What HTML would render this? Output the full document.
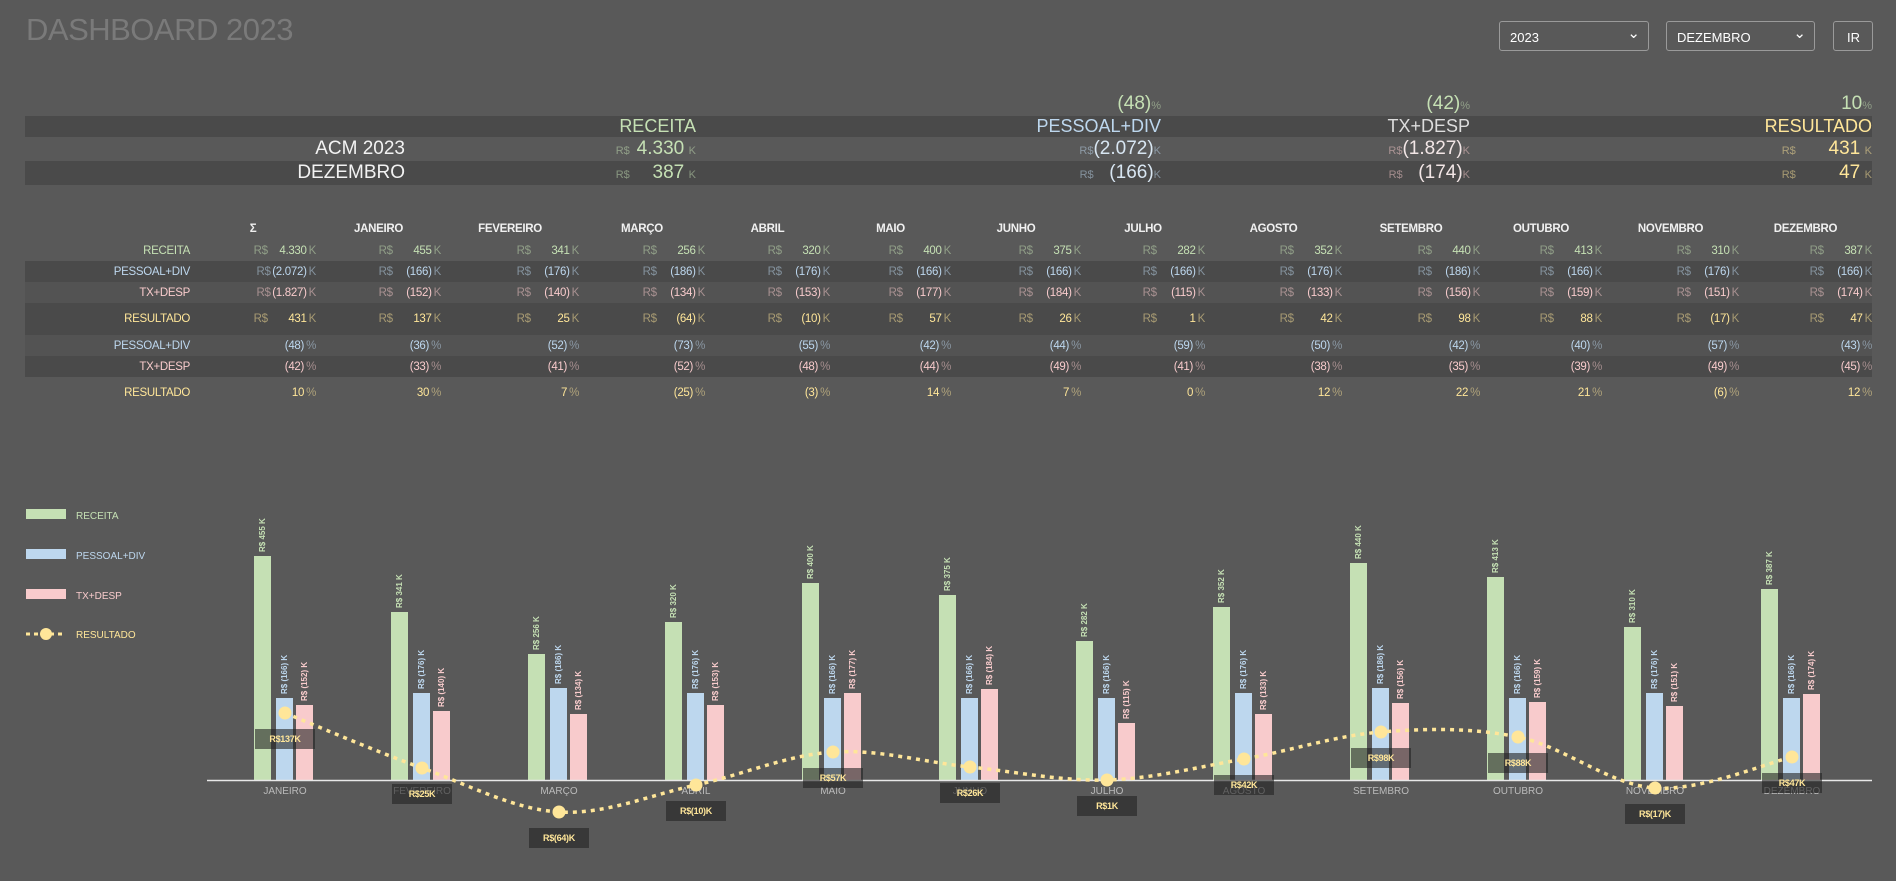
<!DOCTYPE html>
<html><head><meta charset="utf-8"><style>
*{margin:0;padding:0;box-sizing:border-box}
body{width:1896px;height:881px;background:#595959;font-family:"Liberation Sans",sans-serif;position:relative;overflow:hidden;color:#eee}
.abs{position:absolute}
.title{left:26px;top:12px;font-size:31px;color:#7a7a7a;letter-spacing:-0.5px}
.sel{position:absolute;top:21px;height:30px;border:1px solid #9a9a9a;border-radius:3px;color:#fff;font-size:13px;padding:8px 0 0 10px}
.dd:after{content:"⌄";position:absolute;right:8px;top:2px;font-size:15px}
.band{position:absolute;left:25px;width:1847px}
.d{background:#4a4a4a}.m{background:#535353}
.srow{position:absolute;left:25px;width:1847px;display:flex;align-items:center;white-space:nowrap}
.srow div{text-align:right}
.sm{font-size:11px;opacity:.5}
.big{font-size:19px}
.sv{display:inline-block;min-width:50px;text-align:right}
.g{color:#c5e0b4}.b{color:#bdd7ee}.p{color:#f8cbcc}.y{color:#ffe699}.w{color:#f2f2f2}
.row{position:absolute;left:25px;width:1847px;display:flex;align-items:center;font-size:11.5px;white-space:nowrap;letter-spacing:-0.3px}
.row>div{text-align:right}
.row>div:first-child{width:165px}
.c1{width:126px}.c2{width:125px}.c3{width:138px}.c4{width:126px}.c5{width:125px}.c6{width:121px}.c7{width:130px}.c8{width:124px}.c9{width:137px}.c10{width:138px}.c11{width:122px}.c12{width:137px}.c13{width:133px}
.hd>div{text-align:center!important;font-weight:bold;color:#f0f0f0}
.r{opacity:.5}.k{opacity:.5;margin-left:2px}
.v{display:inline-block;min-width:36px;text-align:right}
</style></head><body>
<div class="abs title">DASHBOARD 2023</div>
<div class="sel dd" style="left:1499px;width:150px">2023</div>
<div class="sel dd" style="left:1666px;width:149px">DEZEMBRO</div>
<div class="sel" style="left:1833px;width:40px;padding-left:13px">IR</div>

<!-- summary -->
<div class="band d" style="top:116px;height:21px"></div>
<div class="band d" style="top:161px;height:24px"></div>
<div class="srow g" style="top:93px;height:22px">
<div style="width:1136px" class="big">(48)<span class="sm">%</span></div>
<div style="width:309px" class="big">(42)<span class="sm">%</span></div>
<div style="width:402px" class="big">10<span class="sm">%</span></div>
</div>
<div class="srow" style="top:116px;height:21px;font-size:18px">
<div style="width:671px" class="g">RECEITA</div>
<div style="width:465px" class="b">PESSOAL+DIV</div>
<div style="width:309px;color:#ddd">TX+DESP</div>
<div style="width:402px" class="y">RESULTADO</div>
</div>
<div class="srow" style="top:137px;height:24px">
<div style="width:380px;font-size:19px" class="w">ACM 2023</div>
<div style="width:291px" class="g"><span class="sm">R$</span> <span class="sv big">4.330</span> <span class="sm">K</span></div>
<div style="width:465px" class="b"><span class="sm">R$</span><span class="sv big" style="color:#d8e6f2">(2.072)</span><span class="sm">K</span></div>
<div style="width:309px" class="p"><span class="sm">R$</span><span class="sv big" style="color:#f2e6e6">(1.827)</span><span class="sm">K</span></div>
<div style="width:402px" class="y"><span class="sm">R$</span> <span class="sv big" style="min-width:60px">431</span> <span class="sm">K</span></div>
</div>
<div class="srow" style="top:161px;height:24px">
<div style="width:380px;font-size:19px" class="w">DEZEMBRO</div>
<div style="width:291px" class="g"><span class="sm">R$</span> <span class="sv big">387</span> <span class="sm">K</span></div>
<div style="width:465px" class="b"><span class="sm">R$</span><span class="sv big" style="min-width:60px;color:#d8e6f2">(166)</span><span class="sm">K</span></div>
<div style="width:309px" class="p"><span class="sm">R$</span><span class="sv big" style="min-width:60px;color:#f2e6e6">(174)</span><span class="sm">K</span></div>
<div style="width:402px" class="y"><span class="sm">R$</span> <span class="sv big" style="min-width:60px">47</span> <span class="sm">K</span></div>
</div>

<!-- detail -->
<div class="band d" style="top:261px;height:21px"></div>
<div class="band m" style="top:282px;height:21px"></div>
<div class="band d" style="top:303px;height:32px"></div>
<div class="band m" style="top:335px;height:21px"></div>
<div class="band d" style="top:356px;height:21px"></div>

<div class="row hd" style="top:218px;height:22px"><div></div><div class="c1">Σ</div><div class="c2">JANEIRO</div><div class="c3">FEVEREIRO</div><div class="c4">MARÇO</div><div class="c5">ABRIL</div><div class="c6">MAIO</div><div class="c7">JUNHO</div><div class="c8">JULHO</div><div class="c9">AGOSTO</div><div class="c10">SETEMBRO</div><div class="c11">OUTUBRO</div><div class="c12">NOVEMBRO</div><div class="c13">DEZEMBRO</div></div>

<div class="row g" style="top:240px;height:21px"><div>RECEITA</div>
<div class="c1"><span class="r">R$</span> <span class="v">4.330</span><span class="k">K</span></div>
<div class="c2"><span class="r">R$</span> <span class="v">455</span><span class="k">K</span></div>
<div class="c3"><span class="r">R$</span> <span class="v">341</span><span class="k">K</span></div>
<div class="c4"><span class="r">R$</span> <span class="v">256</span><span class="k">K</span></div>
<div class="c5"><span class="r">R$</span> <span class="v">320</span><span class="k">K</span></div>
<div class="c6"><span class="r">R$</span> <span class="v">400</span><span class="k">K</span></div>
<div class="c7"><span class="r">R$</span> <span class="v">375</span><span class="k">K</span></div>
<div class="c8"><span class="r">R$</span> <span class="v">282</span><span class="k">K</span></div>
<div class="c9"><span class="r">R$</span> <span class="v">352</span><span class="k">K</span></div>
<div class="c10"><span class="r">R$</span> <span class="v">440</span><span class="k">K</span></div>
<div class="c11"><span class="r">R$</span> <span class="v">413</span><span class="k">K</span></div>
<div class="c12"><span class="r">R$</span> <span class="v">310</span><span class="k">K</span></div>
<div class="c13"><span class="r">R$</span> <span class="v">387</span><span class="k">K</span></div></div>

<div class="row b" style="top:261px;height:21px"><div>PESSOAL+DIV</div>
<div class="c1"><span class="r">R$</span><span class="v">(2.072)</span><span class="k">K</span></div>
<div class="c2"><span class="r">R$</span> <span class="v">(166)</span><span class="k">K</span></div>
<div class="c3"><span class="r">R$</span> <span class="v">(176)</span><span class="k">K</span></div>
<div class="c4"><span class="r">R$</span> <span class="v">(186)</span><span class="k">K</span></div>
<div class="c5"><span class="r">R$</span> <span class="v">(176)</span><span class="k">K</span></div>
<div class="c6"><span class="r">R$</span> <span class="v">(166)</span><span class="k">K</span></div>
<div class="c7"><span class="r">R$</span> <span class="v">(166)</span><span class="k">K</span></div>
<div class="c8"><span class="r">R$</span> <span class="v">(166)</span><span class="k">K</span></div>
<div class="c9"><span class="r">R$</span> <span class="v">(176)</span><span class="k">K</span></div>
<div class="c10"><span class="r">R$</span> <span class="v">(186)</span><span class="k">K</span></div>
<div class="c11"><span class="r">R$</span> <span class="v">(166)</span><span class="k">K</span></div>
<div class="c12"><span class="r">R$</span> <span class="v">(176)</span><span class="k">K</span></div>
<div class="c13"><span class="r">R$</span> <span class="v">(166)</span><span class="k">K</span></div></div>

<div class="row p" style="top:282px;height:21px"><div>TX+DESP</div>
<div class="c1"><span class="r">R$</span><span class="v">(1.827)</span><span class="k">K</span></div>
<div class="c2"><span class="r">R$</span> <span class="v">(152)</span><span class="k">K</span></div>
<div class="c3"><span class="r">R$</span> <span class="v">(140)</span><span class="k">K</span></div>
<div class="c4"><span class="r">R$</span> <span class="v">(134)</span><span class="k">K</span></div>
<div class="c5"><span class="r">R$</span> <span class="v">(153)</span><span class="k">K</span></div>
<div class="c6"><span class="r">R$</span> <span class="v">(177)</span><span class="k">K</span></div>
<div class="c7"><span class="r">R$</span> <span class="v">(184)</span><span class="k">K</span></div>
<div class="c8"><span class="r">R$</span> <span class="v">(115)</span><span class="k">K</span></div>
<div class="c9"><span class="r">R$</span> <span class="v">(133)</span><span class="k">K</span></div>
<div class="c10"><span class="r">R$</span> <span class="v">(156)</span><span class="k">K</span></div>
<div class="c11"><span class="r">R$</span> <span class="v">(159)</span><span class="k">K</span></div>
<div class="c12"><span class="r">R$</span> <span class="v">(151)</span><span class="k">K</span></div>
<div class="c13"><span class="r">R$</span> <span class="v">(174)</span><span class="k">K</span></div></div>

<div class="row y" style="top:303px;height:32px"><div>RESULTADO</div>
<div class="c1"><span class="r">R$</span> <span class="v">431</span><span class="k">K</span></div>
<div class="c2"><span class="r">R$</span> <span class="v">137</span><span class="k">K</span></div>
<div class="c3"><span class="r">R$</span> <span class="v">25</span><span class="k">K</span></div>
<div class="c4"><span class="r">R$</span> <span class="v">(64)</span><span class="k">K</span></div>
<div class="c5"><span class="r">R$</span> <span class="v">(10)</span><span class="k">K</span></div>
<div class="c6"><span class="r">R$</span> <span class="v">57</span><span class="k">K</span></div>
<div class="c7"><span class="r">R$</span> <span class="v">26</span><span class="k">K</span></div>
<div class="c8"><span class="r">R$</span> <span class="v">1</span><span class="k">K</span></div>
<div class="c9"><span class="r">R$</span> <span class="v">42</span><span class="k">K</span></div>
<div class="c10"><span class="r">R$</span> <span class="v">98</span><span class="k">K</span></div>
<div class="c11"><span class="r">R$</span> <span class="v">88</span><span class="k">K</span></div>
<div class="c12"><span class="r">R$</span> <span class="v">(17)</span><span class="k">K</span></div>
<div class="c13"><span class="r">R$</span> <span class="v">47</span><span class="k">K</span></div></div>

<div class="row b" style="top:335px;height:21px"><div>PESSOAL+DIV</div>
<div class="c1">(48)<span class="k">%</span></div><div class="c2">(36)<span class="k">%</span></div><div class="c3">(52)<span class="k">%</span></div><div class="c4">(73)<span class="k">%</span></div><div class="c5">(55)<span class="k">%</span></div><div class="c6">(42)<span class="k">%</span></div><div class="c7">(44)<span class="k">%</span></div><div class="c8">(59)<span class="k">%</span></div><div class="c9">(50)<span class="k">%</span></div><div class="c10">(42)<span class="k">%</span></div><div class="c11">(40)<span class="k">%</span></div><div class="c12">(57)<span class="k">%</span></div><div class="c13">(43)<span class="k">%</span></div></div>

<div class="row p" style="top:356px;height:21px"><div>TX+DESP</div>
<div class="c1">(42)<span class="k">%</span></div><div class="c2">(33)<span class="k">%</span></div><div class="c3">(41)<span class="k">%</span></div><div class="c4">(52)<span class="k">%</span></div><div class="c5">(48)<span class="k">%</span></div><div class="c6">(44)<span class="k">%</span></div><div class="c7">(49)<span class="k">%</span></div><div class="c8">(41)<span class="k">%</span></div><div class="c9">(38)<span class="k">%</span></div><div class="c10">(35)<span class="k">%</span></div><div class="c11">(39)<span class="k">%</span></div><div class="c12">(49)<span class="k">%</span></div><div class="c13">(45)<span class="k">%</span></div></div>

<div class="row y" style="top:377px;height:31px"><div>RESULTADO</div>
<div class="c1">10<span class="k">%</span></div><div class="c2">30<span class="k">%</span></div><div class="c3">7<span class="k">%</span></div><div class="c4">(25)<span class="k">%</span></div><div class="c5">(3)<span class="k">%</span></div><div class="c6">14<span class="k">%</span></div><div class="c7">7<span class="k">%</span></div><div class="c8">0<span class="k">%</span></div><div class="c9">12<span class="k">%</span></div><div class="c10">22<span class="k">%</span></div><div class="c11">21<span class="k">%</span></div><div class="c12">(6)<span class="k">%</span></div><div class="c13">12<span class="k">%</span></div></div>

<svg class="abs" style="left:0;top:0" width="1896" height="881" font-family="Liberation Sans, sans-serif">
<rect x="26" y="509" width="40" height="10" fill="#c5e0b4"/><text x="76" y="519" font-size="10" fill="#c5e0b4">RECEITA</text>
<rect x="26" y="549" width="40" height="10" fill="#bdd7ee"/><text x="76" y="559" font-size="10" fill="#bdd7ee">PESSOAL+DIV</text>
<rect x="26" y="589" width="40" height="10" fill="#f8cbcc"/><text x="76" y="599" font-size="10" fill="#f8cbcc">TX+DESP</text>
<line x1="26" y1="634" x2="66" y2="634" stroke="#ffe699" stroke-width="3" stroke-dasharray="4 4"/><circle cx="46" cy="634" r="6" fill="#ffe699"/><text x="76" y="638" font-size="10" fill="#ffe699">RESULTADO</text>
<g>
<rect x="254" y="556" width="17" height="224" fill="#c5e0b4"/><rect x="276" y="698" width="17" height="82" fill="#bdd7ee"/><rect x="296" y="705" width="17" height="75" fill="#f8cbcc"/>
<rect x="391" y="612" width="17" height="168" fill="#c5e0b4"/><rect x="413" y="693" width="17" height="87" fill="#bdd7ee"/><rect x="433" y="711" width="17" height="69" fill="#f8cbcc"/>
<rect x="528" y="654" width="17" height="126" fill="#c5e0b4"/><rect x="550" y="688" width="17" height="92" fill="#bdd7ee"/><rect x="570" y="714" width="17" height="66" fill="#f8cbcc"/>
<rect x="665" y="622" width="17" height="158" fill="#c5e0b4"/><rect x="687" y="693" width="17" height="87" fill="#bdd7ee"/><rect x="707" y="705" width="17" height="75" fill="#f8cbcc"/>
<rect x="802" y="583" width="17" height="197" fill="#c5e0b4"/><rect x="824" y="698" width="17" height="82" fill="#bdd7ee"/><rect x="844" y="693" width="17" height="87" fill="#f8cbcc"/>
<rect x="939" y="595" width="17" height="185" fill="#c5e0b4"/><rect x="961" y="698" width="17" height="82" fill="#bdd7ee"/><rect x="981" y="689" width="17" height="91" fill="#f8cbcc"/>
<rect x="1076" y="641" width="17" height="139" fill="#c5e0b4"/><rect x="1098" y="698" width="17" height="82" fill="#bdd7ee"/><rect x="1118" y="723" width="17" height="57" fill="#f8cbcc"/>
<rect x="1213" y="607" width="17" height="173" fill="#c5e0b4"/><rect x="1235" y="693" width="17" height="87" fill="#bdd7ee"/><rect x="1255" y="714" width="17" height="66" fill="#f8cbcc"/>
<rect x="1350" y="563" width="17" height="217" fill="#c5e0b4"/><rect x="1372" y="688" width="17" height="92" fill="#bdd7ee"/><rect x="1392" y="703" width="17" height="77" fill="#f8cbcc"/>
<rect x="1487" y="577" width="17" height="203" fill="#c5e0b4"/><rect x="1509" y="698" width="17" height="82" fill="#bdd7ee"/><rect x="1529" y="702" width="17" height="78" fill="#f8cbcc"/>
<rect x="1624" y="627" width="17" height="153" fill="#c5e0b4"/><rect x="1646" y="693" width="17" height="87" fill="#bdd7ee"/><rect x="1666" y="706" width="17" height="74" fill="#f8cbcc"/>
<rect x="1761" y="589" width="17" height="191" fill="#c5e0b4"/><rect x="1783" y="698" width="17" height="82" fill="#bdd7ee"/><rect x="1803" y="694" width="17" height="86" fill="#f8cbcc"/>
</g>
<g font-size="8" font-weight="bold">
<text transform="translate(265,552) rotate(-90)" fill="#c5e0b4">R$ 455 K</text><text transform="translate(287,694) rotate(-90)" fill="#bdd7ee">R$ (166) K</text><text transform="translate(307,701) rotate(-90)" fill="#f8cbcc">R$ (152) K</text>
<text transform="translate(402,608) rotate(-90)" fill="#c5e0b4">R$ 341 K</text><text transform="translate(424,689) rotate(-90)" fill="#bdd7ee">R$ (176) K</text><text transform="translate(444,707) rotate(-90)" fill="#f8cbcc">R$ (140) K</text>
<text transform="translate(539,650) rotate(-90)" fill="#c5e0b4">R$ 256 K</text><text transform="translate(561,684) rotate(-90)" fill="#bdd7ee">R$ (186) K</text><text transform="translate(581,710) rotate(-90)" fill="#f8cbcc">R$ (134) K</text>
<text transform="translate(676,618) rotate(-90)" fill="#c5e0b4">R$ 320 K</text><text transform="translate(698,689) rotate(-90)" fill="#bdd7ee">R$ (176) K</text><text transform="translate(718,701) rotate(-90)" fill="#f8cbcc">R$ (153) K</text>
<text transform="translate(813,579) rotate(-90)" fill="#c5e0b4">R$ 400 K</text><text transform="translate(835,694) rotate(-90)" fill="#bdd7ee">R$ (166) K</text><text transform="translate(855,689) rotate(-90)" fill="#f8cbcc">R$ (177) K</text>
<text transform="translate(950,591) rotate(-90)" fill="#c5e0b4">R$ 375 K</text><text transform="translate(972,694) rotate(-90)" fill="#bdd7ee">R$ (166) K</text><text transform="translate(992,685) rotate(-90)" fill="#f8cbcc">R$ (184) K</text>
<text transform="translate(1087,637) rotate(-90)" fill="#c5e0b4">R$ 282 K</text><text transform="translate(1109,694) rotate(-90)" fill="#bdd7ee">R$ (166) K</text><text transform="translate(1129,719) rotate(-90)" fill="#f8cbcc">R$ (115) K</text>
<text transform="translate(1224,603) rotate(-90)" fill="#c5e0b4">R$ 352 K</text><text transform="translate(1246,689) rotate(-90)" fill="#bdd7ee">R$ (176) K</text><text transform="translate(1266,710) rotate(-90)" fill="#f8cbcc">R$ (133) K</text>
<text transform="translate(1361,559) rotate(-90)" fill="#c5e0b4">R$ 440 K</text><text transform="translate(1383,684) rotate(-90)" fill="#bdd7ee">R$ (186) K</text><text transform="translate(1403,699) rotate(-90)" fill="#f8cbcc">R$ (156) K</text>
<text transform="translate(1498,573) rotate(-90)" fill="#c5e0b4">R$ 413 K</text><text transform="translate(1520,694) rotate(-90)" fill="#bdd7ee">R$ (166) K</text><text transform="translate(1540,698) rotate(-90)" fill="#f8cbcc">R$ (159) K</text>
<text transform="translate(1635,623) rotate(-90)" fill="#c5e0b4">R$ 310 K</text><text transform="translate(1657,689) rotate(-90)" fill="#bdd7ee">R$ (176) K</text><text transform="translate(1677,702) rotate(-90)" fill="#f8cbcc">R$ (151) K</text>
<text transform="translate(1772,585) rotate(-90)" fill="#c5e0b4">R$ 387 K</text><text transform="translate(1794,694) rotate(-90)" fill="#bdd7ee">R$ (166) K</text><text transform="translate(1814,690) rotate(-90)" fill="#f8cbcc">R$ (174) K</text>
</g>
<line x1="207" y1="780.5" x2="1872" y2="780.5" stroke="#e8e8e8" stroke-width="1.5"/>
<g font-size="10" fill="#bbb" text-anchor="middle">
<text x="285" y="794">JANEIRO</text><text x="422" y="794">FEVEREIRO</text><text x="559" y="794">MARÇO</text><text x="696" y="794">ABRIL</text><text x="833" y="794">MAIO</text><text x="970" y="794">JUNHO</text><text x="1107" y="794">JULHO</text><text x="1244" y="794">AGOSTO</text><text x="1381" y="794">SETEMBRO</text><text x="1518" y="794">OUTUBRO</text><text x="1655" y="794">NOVEMBRO</text><text x="1792" y="794">DEZEMBRO</text>
</g>
<path d="M285,713 C308,722.2 376,751.5 422,768 C468,784.5 513,809.2 559,812 C605,814.8 650,795 696,785 C742,775 787,755 833,752 C879,749 924,762.3 970,767 C1016,771.7 1061,781.3 1107,780 C1153,778.7 1198,767 1244,759 C1290,751 1335,735.7 1381,732 C1427,728.3 1472,727.7 1518,737 C1564,746.3 1609,784.7 1655,788 C1701,791.3 1769,762.2 1792,757" fill="none" stroke="#ffe699" stroke-width="3.5" stroke-dasharray="4 5"/>
<g fill="#ffe699">
<circle cx="285" cy="713" r="6.5"/><circle cx="422" cy="768" r="6.5"/><circle cx="559" cy="812" r="6.5"/><circle cx="696" cy="785" r="6.5"/><circle cx="833" cy="752" r="6.5"/><circle cx="970" cy="767" r="6.5"/><circle cx="1107" cy="780" r="6.5"/><circle cx="1244" cy="759" r="6.5"/><circle cx="1381" cy="732" r="6.5"/><circle cx="1518" cy="737" r="6.5"/><circle cx="1655" cy="788" r="6.5"/><circle cx="1792" cy="757" r="6.5"/>
</g>
<g fill="rgba(35,35,35,0.6)">
<rect x="255" y="729" width="60" height="20"/><rect x="392" y="784" width="60" height="20"/><rect x="529" y="828" width="60" height="20"/><rect x="666" y="801" width="60" height="20"/><rect x="803" y="768" width="60" height="20"/><rect x="940" y="783" width="60" height="20"/><rect x="1077" y="796" width="60" height="20"/><rect x="1214" y="775" width="60" height="20"/><rect x="1351" y="748" width="60" height="20"/><rect x="1488" y="753" width="60" height="20"/><rect x="1625" y="804" width="60" height="20"/><rect x="1762" y="773" width="60" height="20"/>
</g>
<g font-size="9" font-weight="bold" fill="#ffe699" text-anchor="middle" letter-spacing="-0.3">
<text x="285" y="742">R$137K</text><text x="422" y="797">R$25K</text><text x="559" y="841">R$(64)K</text><text x="696" y="814">R$(10)K</text><text x="833" y="781">R$57K</text><text x="970" y="796">R$26K</text><text x="1107" y="809">R$1K</text><text x="1244" y="788">R$42K</text><text x="1381" y="761">R$98K</text><text x="1518" y="766">R$88K</text><text x="1655" y="817">R$(17)K</text><text x="1792" y="786">R$47K</text>
</g>
</svg>
</body></html>
